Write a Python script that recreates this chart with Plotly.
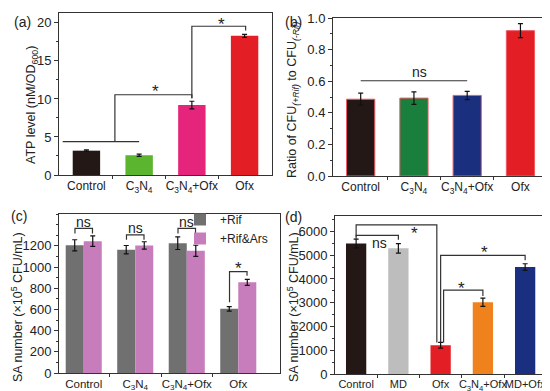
import plotly.graph_objects as go

# ---------------- data ----------------
A_CATS = ["Control", "C<sub>3</sub>N<sub>4</sub>", "C<sub>3</sub>N<sub>4</sub>+Ofx", "Ofx"]
A_VALS = [3.2, 2.6, 9.2, 18.3]
A_ERRS = [0.1, 0.15, 0.5, 0.2]
A_COLORS = ["#231815", "#5bb52e", "#e5247b", "#e41e25"]
A_YTICKS = [0, 5, 10, 15, 20]

B_CATS = ["Control", "C<sub>3</sub>N<sub>4</sub>", "C<sub>3</sub>N<sub>4</sub>+Ofx", "Ofx"]
B_VALS = [0.486, 0.493, 0.51, 0.92]
B_ERRS = [0.038, 0.04, 0.026, 0.044]
B_COLORS = ["#231815", "#1a7f3c", "#1b2f7f", "#e41e25"]
B_YTICKS = [0.0, 0.2, 0.4, 0.6, 0.8, 1.0]

C_CATS = ["Control", "C<sub>3</sub>N<sub>4</sub>", "C<sub>3</sub>N<sub>4</sub>+Ofx", "Ofx"]
C_RIF = [1205, 1163, 1225, 605]
C_RIF_ERR = [52, 40, 60, 22]
C_RIFARS = [1244, 1203, 1153, 855]
C_RIFARS_ERR = [50, 35, 52, 28]
C_SERIES = ["+Rif", "+Rif&Ars"]
C_COLORS = ["#707070", "#c77dbb"]
C_YTICKS = [0, 200, 400, 600, 800, 1000, 1200]

D_CATS = ["Control", "MD", "Ofx", "C<sub>3</sub>N<sub>4</sub>+Ofx", "MD+Ofx"]
D_VALS = [5490, 5290, 1210, 3020, 4500]
D_ERRS = [185, 200, 120, 170, 140]
D_COLORS = ["#231815", "#bdbdbd", "#e41e25", "#f0821e", "#1b2f80"]
D_YTICKS = [0, 1000, 2000, 3000, 4000, 5000, 6000]

# significance brackets (x in category units, y in data units)
A_SIG_LINES = [
    ([-0.45, 1.0], [4.4, 4.4]),
    ([0.54, 0.54, 2.0, 2.0], [4.4, 10.55, 10.55, 10.1]),
    ([2.0, 2.0, 3.02, 3.02], [10.1, 19.56, 19.56, 19.0]),
]
A_SIG_TEXT = [(1.31, 11.3, "*"), (2.57, 20.1, "*")]

B_SIG_LINES = [([0.0, 2.0], [0.603, 0.603])]
B_SIG_TEXT = [(1.1, 0.66, "ns")]

C_SIG_LINES = [
    ([-0.17, -0.17, 0.17, 0.17], [1317, 1364, 1364, 1317]),
    ([0.83, 0.83, 1.17, 1.17], [1257, 1304, 1304, 1257]),
    ([1.83, 1.83, 2.17, 2.17], [1317, 1364, 1364, 1317]),
    ([2.83, 2.83, 3.17, 3.17], [668, 956, 956, 918]),
]
C_SIG_TEXT = [(0.0, 1425, "ns"), (1.0, 1368, "ns"), (2.0, 1425, "ns"), (3.0, 1012, "*")]

D_SIG_LINES = [
    ([0.0, 0.0, 1.0, 1.0], [5650, 5832, 5832, 5651]),
    ([0.0, 0.0, 1.91, 1.91], [5790, 6279, 6279, 1325]),
    ([2.0, 2.0, 4.0, 4.0], [1325, 4995, 4995, 4786]),
    ([2.07, 2.07, 3.0, 3.0], [1325, 3530, 3530, 3279]),
]
D_SIG_TEXT = [(0.56, 5510, "ns"), (1.39, 6000, "*"), (3.04, 5232, "*"), (2.5, 3725, "*")]

# ---------------- figure ----------------
W, H = 550, 391
FONT = "Liberation Sans, Arial, sans-serif"
AX = "#333333"
fig = go.Figure()


def px_x(p):
    return p / W


def px_y(p):
    return 1 - p / H


panels = {
    "a": dict(x=(51, 264), y=(5, 167), xr=[-0.52, 3.52], yr=[0, 21.3], xa="x", ya="y"),
    "b": dict(x=(325, 538), y=(10, 168), xr=[-0.52, 3.48], yr=[0, 1.0], xa="x2", ya="y2"),
    "c": dict(x=(51, 272), y=(206, 365), xr=[-0.48, 3.81], yr=[0, 1500], xa="x3", ya="y3"),
    "d": dict(x=(327, 537), y=(208, 366), xr=[-0.5, 4.47], yr=[0, 6650], xa="x4", ya="y4"),
}

err_style = dict(type="data", color="#111111", thickness=1.2, width=2.5, visible=True)

# panel a
fig.add_trace(go.Bar(x=list(range(len(A_CATS))), y=A_VALS, width=0.52,
                     marker=dict(color=A_COLORS, line=dict(width=0)),
                     error_y=dict(array=A_ERRS, **err_style), showlegend=False,
                     xaxis="x", yaxis="y"))
# panel b
fig.add_trace(go.Bar(x=list(range(len(B_CATS))), y=B_VALS, width=0.53,
                     marker=dict(color=B_COLORS, line=dict(width=1, color="#ee5a64")),
                     error_y=dict(array=B_ERRS, **err_style), showlegend=False,
                     xaxis="x2", yaxis="y2"))
# panel c
for name, vals, errs, col in zip(C_SERIES, [C_RIF, C_RIFARS], [C_RIF_ERR, C_RIFARS_ERR], C_COLORS):
    fig.add_trace(go.Bar(x=list(range(len(C_CATS))), y=vals, name=name,
                         marker=dict(color=col, line=dict(width=0)),
                         error_y=dict(array=errs, **err_style),
                         xaxis="x3", yaxis="y3"))
# panel d
fig.add_trace(go.Bar(x=list(range(len(D_CATS))), y=D_VALS, width=0.48,
                     marker=dict(color=D_COLORS, line=dict(width=0)),
                     error_y=dict(array=D_ERRS, **err_style), showlegend=False,
                     xaxis="x4", yaxis="y4"))

annotations = []
for key, lines, texts in [("a", A_SIG_LINES, A_SIG_TEXT), ("b", B_SIG_LINES, B_SIG_TEXT),
                          ("c", C_SIG_LINES, C_SIG_TEXT), ("d", D_SIG_LINES, D_SIG_TEXT)]:
    p = panels[key]
    for xs, ys in lines:
        fig.add_trace(go.Scatter(x=xs, y=ys, mode="lines", line=dict(color=AX, width=1.2),
                                 showlegend=False, hoverinfo="skip",
                                 xaxis=p["xa"], yaxis=p["ya"]))
    for tx, ty, tt in texts:
        star = tt == "*"
        annotations.append(dict(x=tx, y=ty, text=tt, showarrow=False,
                                xref=p["xa"], yref=p["ya"],
                                yanchor="middle" if not star else "top",
                                yshift=0 if not star else 9,
                                font=dict(size=17 if star else 14, color="#222", family=FONT)))

# panel labels
for lab, (lx, ly) in {"(a)": (14, 14), "(b)": (285, 14), "(c)": (11, 208), "(d)": (285, 209)}.items():
    annotations.append(dict(x=px_x(lx), y=px_y(ly), xref="paper", yref="paper", text=lab,
                            showarrow=False, font=dict(size=14, color="#222", family=FONT),
                            xanchor="center", yanchor="middle"))

# y-axis titles (placed as rotated texts)
YTITLES = [
    ("ATP level (nM/OD<sub>600</sub>)", 24, 97),
    ("Ratio of CFU<sub><i>(+Rif)</i></sub> to CFU<sub><i>(-Rif)</i></sub>", 285, 92),
    ("SA number (×10<sup>5</sup> CFU/mL)", 9, 299),
    ("SA number (×10<sup>5</sup> CFU/mL)", 285, 299),
]
for txt, tx, ty in YTITLES:
    annotations.append(dict(x=px_x(tx), y=px_y(ty), xref="paper", yref="paper", text=txt,
                            textangle=-90, showarrow=False, xanchor="center", yanchor="middle",
                            font=dict(size=12.5, color="#222", family=FONT)))

yticks = {"a": A_YTICKS, "b": B_YTICKS, "c": C_YTICKS, "d": D_YTICKS}
cats = {"a": A_CATS, "b": B_CATS, "c": C_CATS, "d": D_CATS}

layout = dict(width=W, height=H, margin=dict(l=0, r=0, t=0, b=0, autoexpand=False),
              paper_bgcolor="white", plot_bgcolor="white",
              font=dict(family=FONT, size=12, color="#222"),
              barmode="group", bargap=0.3, bargroupgap=0.0,
              annotations=annotations,
              legend=dict(x=px_x(172), y=px_y(197), xanchor="left", yanchor="top",
                          bgcolor="rgba(0,0,0,0)", font=dict(size=12, family=FONT),
                          tracegroupgap=0, itemwidth=30),
              )

for i, key in enumerate(["a", "b", "c", "d"]):
    p = panels[key]
    sfx = "" if i == 0 else str(i + 1)
    n = len(cats[key])
    tv = yticks[key]
    step = tv[1] - tv[0]
    layout["xaxis" + sfx] = dict(
        domain=[px_x(p["x"][0]), px_x(p["x"][1])], range=p["xr"], anchor=p["ya"],
        tickmode="array", tickvals=list(range(n)), ticktext=cats[key], ticks="",
        tickangle=0, automargin=False,
        showline=True, linecolor=AX, linewidth=1, mirror=True, showgrid=False, zeroline=False,
        tickfont=dict(size=12 if key in ("a", "b") else (11.5 if key == "c" else 11), color="#222"),
        minor=dict(tickmode="array", tickvals=[k + 0.5 for k in range(n - 1)],
                   ticks="outside", ticklen=3, tickcolor=AX, showgrid=False),
        fixedrange=True)
    layout["yaxis" + sfx] = dict(
        domain=[px_y(p["y"][1]), px_y(p["y"][0])], range=p["yr"], anchor=p["xa"],
        tickmode="array", tickvals=tv,
        ticktext=[f"{v:.1f}" for v in tv] if key == "b" else [str(v) for v in tv],
        ticks="outside", ticklen=4, tickcolor=AX,
        automargin=False,
        showline=True, linecolor=AX, linewidth=1, mirror=True, showgrid=False, zeroline=False,
        tickfont=dict(size=13, color="#222"),
        minor=dict(tickmode="linear", tick0=0, dtick=step / 2, ticks="outside", ticklen=2,
                   tickcolor=AX, showgrid=False),
        fixedrange=True)

fig.update_layout(**layout)
fig.write_html("out.html")
